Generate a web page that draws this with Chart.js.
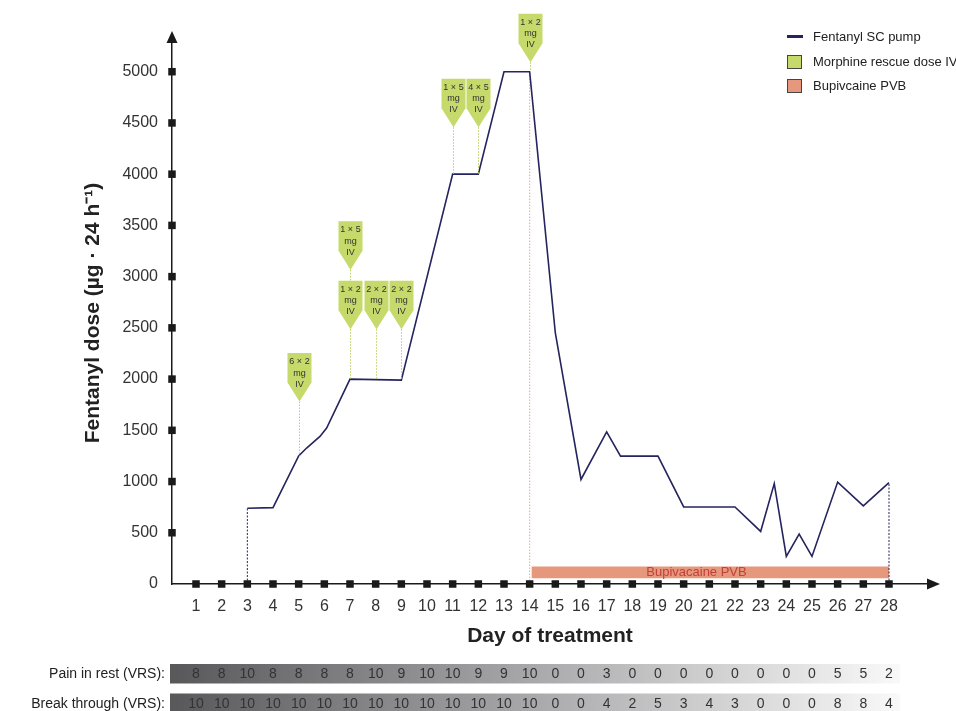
<!DOCTYPE html>
<html>
<head>
<meta charset="utf-8">
<script src="https://cdn.jsdelivr.net/npm/chart.js@4.4.1/dist/chart.umd.min.js"></script>
<style>
  html, body { margin: 0; padding: 0; background: #fff; }
  #wrap { width: 956px; height: 711px; position: relative; }
</style>
</head>
<body>
<div id="wrap"><canvas id="c"></canvas></div>
<script>
// ---------- data ----------
const dayTicks = [1,2,3,4,5,6,7,8,9,10,11,12,13,14,15,16,17,18,19,20,21,22,23,24,25,26,27,28];
const doseTicks = [0,500,1000,1500,2000,2500,3000,3500,4000,4500,5000];

const fentDays = [3, 4, 5, 5.31, 5.83, 6.09, 7, 9, 11, 12, 13, 14, 15, 16, 17, 17.54, 19, 20, 22, 23, 23.53, 24, 24.5, 25, 26, 27, 28];
const fentDose = [740, 745, 1250, 1327, 1440, 1522, 2000, 1990, 4000, 4000, 5000, 5000, 2450, 1020, 1485, 1248, 1248, 752, 752, 513, 980, 269, 486, 269, 995, 762, 990];

const rescueDays = [5, 7, 7, 8, 9, 11, 12, 14];
const rescueText = ['6 \u00d7 2', '1 \u00d7 5', '1 \u00d7 2', '2 \u00d7 2', '2 \u00d7 2', '1 \u00d7 5', '4 \u00d7 5', '1 \u00d7 2'];
const rescueTip  = [1781, 3066, 2487, 2487, 2487, 4458, 4458, 5092];
const rescueEnd  = [1250, 2961, 2000, 1990, 1990, 4000, 4000, 5000];

const bupiDays = [14.07, 28];
const bupiLow  = [55, 55];
const bupiHigh = [172, 172];

const painRest     = [8,8,10,8,8,8,8,10,9,10,10,9,9,10,0,0,3,0,0,0,0,0,0,0,0,5,5,2];
const breakThrough = [10,10,10,10,10,10,10,10,10,10,10,10,10,10,0,0,4,2,5,3,4,3,0,0,0,8,8,4];

// ---------- style ----------
const FONT = '"Liberation Sans", Arial, Helvetica, sans-serif';
const NAVY = '#24245e';
const GREEN = '#c6d96b';
const SALMON = '#e6987d';

function pts(xs, ys) { return xs.map((v, i) => ({x: v, y: ys[i]})); }

const deco = {
  id: 'deco',
  afterDatasetsDraw(chart) {
    const {ctx, scales: {x, y}} = chart;
    ctx.save();
    // Bupivacaine label
    ctx.fillStyle = '#c2413a';
    ctx.font = '13px ' + FONT;
    ctx.textAlign = 'center';
    ctx.textBaseline = 'middle';
    ctx.fillText('Bupivacaine PVB', x.getPixelForValue(20.5), y.getPixelForValue((bupiLow[0] + bupiHigh[0]) / 2) + 0.5);

    // rescue dose callouts
    rescueDays.forEach((d, i) => {
      const cx = Math.round(x.getPixelForValue(d)) + 0.5;
      const tipY = y.getPixelForValue(rescueTip[i]);
      const endY = y.getPixelForValue(rescueEnd[i]);
      ctx.strokeStyle = '#b9d067';
      ctx.lineWidth = 1;
      ctx.setLineDash([1.5, 1.5]);
      ctx.beginPath();
      ctx.moveTo(cx, tipY);
      ctx.lineTo(cx, endY);
      ctx.stroke();
      ctx.setLineDash([]);
      const w = 24, rectH = 29.5, triH = 19;
      const top = tipY - rectH - triH;
      ctx.fillStyle = GREEN;
      ctx.beginPath();
      ctx.moveTo(cx - w / 2, top);
      ctx.lineTo(cx + w / 2, top);
      ctx.lineTo(cx + w / 2, top + rectH);
      ctx.lineTo(cx, tipY);
      ctx.lineTo(cx - w / 2, top + rectH);
      ctx.closePath();
      ctx.fill();
      ctx.fillStyle = '#333';
      ctx.font = '9px ' + FONT;
      ctx.textAlign = 'center';
      ctx.textBaseline = 'middle';
      ctx.fillText(rescueText[i], cx, top + 8.5);
      ctx.fillText('mg', cx, top + 20);
      ctx.fillText('IV', cx, top + 31);
    });
    ctx.restore();
  },
  afterDraw(chart) {
    const {ctx, chartArea: ca, scales: {x, y}} = chart;
    ctx.save();
    // arrows
    ctx.fillStyle = '#1a1a1a';
    ctx.beginPath();
    ctx.moveTo(ca.left - 5.5, ca.top + 1);
    ctx.lineTo(ca.left + 5.5, ca.top + 1);
    ctx.lineTo(ca.left, ca.top - 11);
    ctx.closePath();
    ctx.fill();
    ctx.beginPath();
    ctx.moveTo(ca.right - 1, ca.bottom - 5.5);
    ctx.lineTo(ca.right - 1, ca.bottom + 5.5);
    ctx.lineTo(ca.right + 12, ca.bottom);
    ctx.closePath();
    ctx.fill();
    // tick squares
    const s = 7.5;
    dayTicks.forEach(d => {
      const px = x.getPixelForValue(d);
      ctx.fillRect(px - s / 2, ca.bottom - s / 2, s, s);
    });
    doseTicks.forEach(v => {
      if (v === 0) return;
      const py = y.getPixelForValue(v);
      ctx.fillRect(ca.left - s / 2, py - s / 2, s, s);
    });

    // legend
    ctx.textAlign = 'left';
    ctx.textBaseline = 'middle';
    ctx.font = '13px ' + FONT;
    ctx.fillStyle = NAVY;
    ctx.fillRect(787, 35, 16, 3);
    ctx.fillStyle = GREEN;
    ctx.fillRect(787.5, 55.5, 14, 13);
    ctx.strokeStyle = '#444';
    ctx.lineWidth = 1;
    ctx.strokeRect(787.5, 55.5, 14, 13);
    ctx.fillStyle = SALMON;
    ctx.fillRect(787.5, 79.5, 14, 13);
    ctx.strokeRect(787.5, 79.5, 14, 13);
    ctx.fillStyle = '#222';
    ctx.fillText('Fentanyl SC pump', 813, 37);
    ctx.fillText('Morphine rescue dose IV', 813, 62);
    ctx.fillText('Bupivcaine PVB', 813, 86);

    // bottom rows
    const rows = [
      {label: 'Pain in rest (VRS):', vals: painRest, top: 664, h: 19.5, cy: 674.5},
      {label: 'Break through (VRS):', vals: breakThrough, top: 693.5, h: 19, cy: 704.5}
    ];
    rows.forEach(r => {
      const g = ctx.createLinearGradient(170, 0, 900, 0);
      g.addColorStop(0, '#58585a');
      g.addColorStop(0.5, '#a9a9ab');
      g.addColorStop(1, '#f9f9f9');
      ctx.fillStyle = g;
      ctx.fillRect(170, r.top, 730, r.h);
      ctx.fillStyle = '#222';
      ctx.font = '14px ' + FONT;
      ctx.textAlign = 'right';
      ctx.fillText(r.label, 165, r.cy);
      ctx.fillStyle = '#333';
      ctx.textAlign = 'center';
      r.vals.forEach((v, i) => {
        ctx.fillText(String(v), x.getPixelForValue(dayTicks[i]), r.cy);
      });
    });
    ctx.restore();
  }
};

new Chart(document.getElementById('c'), {
  type: 'line',
  data: {
    datasets: [
      { label: 'Fentanyl SC pump', data: pts(fentDays, fentDose), borderColor: NAVY, borderWidth: 1.6, pointRadius: 0, tension: 0, fill: false },
      { label: 'start', data: [{x: fentDays[0], y: 0}, {x: fentDays[0], y: fentDose[0]}], borderColor: NAVY, borderWidth: 1, borderDash: [2, 1.5], pointRadius: 0, fill: false },
      { label: 'end', data: [{x: fentDays[fentDays.length - 1], y: 0}, {x: fentDays[fentDays.length - 1], y: fentDose[fentDose.length - 1]}], borderColor: NAVY, borderWidth: 1, borderDash: [2, 1.5], pointRadius: 0, fill: false },
      { label: 'pvbstart', data: [{x: 14, y: 0}, {x: 14, y: 5000}], borderColor: '#eea58f', borderWidth: 1, borderDash: [1.5, 1.5], pointRadius: 0, fill: false },
      { label: 'bupiLow', data: pts(bupiDays, bupiLow), borderWidth: 0, borderColor: 'rgba(0,0,0,0)', pointRadius: 0, fill: false },
      { label: 'Bupivacaine PVB', data: pts(bupiDays, bupiHigh), borderWidth: 0, borderColor: 'rgba(0,0,0,0)', backgroundColor: SALMON, pointRadius: 0, fill: '-1' }
    ]
  },
  options: {
    responsive: true,
    maintainAspectRatio: false,
    animation: false,
    events: [],
    layout: { padding: { left: 0, right: 28, top: 42, bottom: 0 } },
    plugins: { legend: { display: false }, tooltip: { enabled: false } },
    scales: {
      x: {
        type: 'linear',
        min: 0.065,
        max: 29.52,
        afterFit: s => { s.height = 127; },
        grid: { display: false, drawTicks: false },
        border: { display: true, color: '#1a1a1a', width: 1.5 },
        ticks: {
          stepSize: 1,
          includeBounds: false,
          autoSkip: false,
          maxRotation: 0,
          maxTicksLimit: 60,
          padding: 13,
          color: '#333',
          font: { family: FONT, size: 16 },
          callback: v => (v >= 1 && v <= 28 && Math.abs(v - Math.round(v)) < 1e-6) ? String(Math.round(v)) : ''
        },
        title: {
          display: true,
          text: 'Day of treatment',
          color: '#222',
          font: { family: FONT, size: 21, weight: 'bold' },
          padding: { top: 0, bottom: 62.4 }
        }
      },
      y: {
        type: 'linear',
        min: 0,
        max: 5290,
        afterFit: s => { s.width = 172; },
        afterBuildTicks: s => { s.ticks = doseTicks.map(v => ({value: v})); },
        grid: { display: false, drawTicks: false },
        border: { display: true, color: '#1a1a1a', width: 1.5 },
        ticks: {
          autoSkip: false,
          padding: 14,
          color: '#333',
          font: { family: FONT, size: 16 },
          callback: v => String(Math.round(v))
        },
        title: {
          display: true,
          text: 'Fentanyl dose (\u00b5g \u00b7 24 h\u207b\u00b9)',
          color: '#222',
          font: { family: FONT, size: 21, weight: 'bold' },
          padding: { top: 80.4, bottom: 0 }
        }
      }
    }
  },
  plugins: [deco]
});
</script>
</body>
</html>
